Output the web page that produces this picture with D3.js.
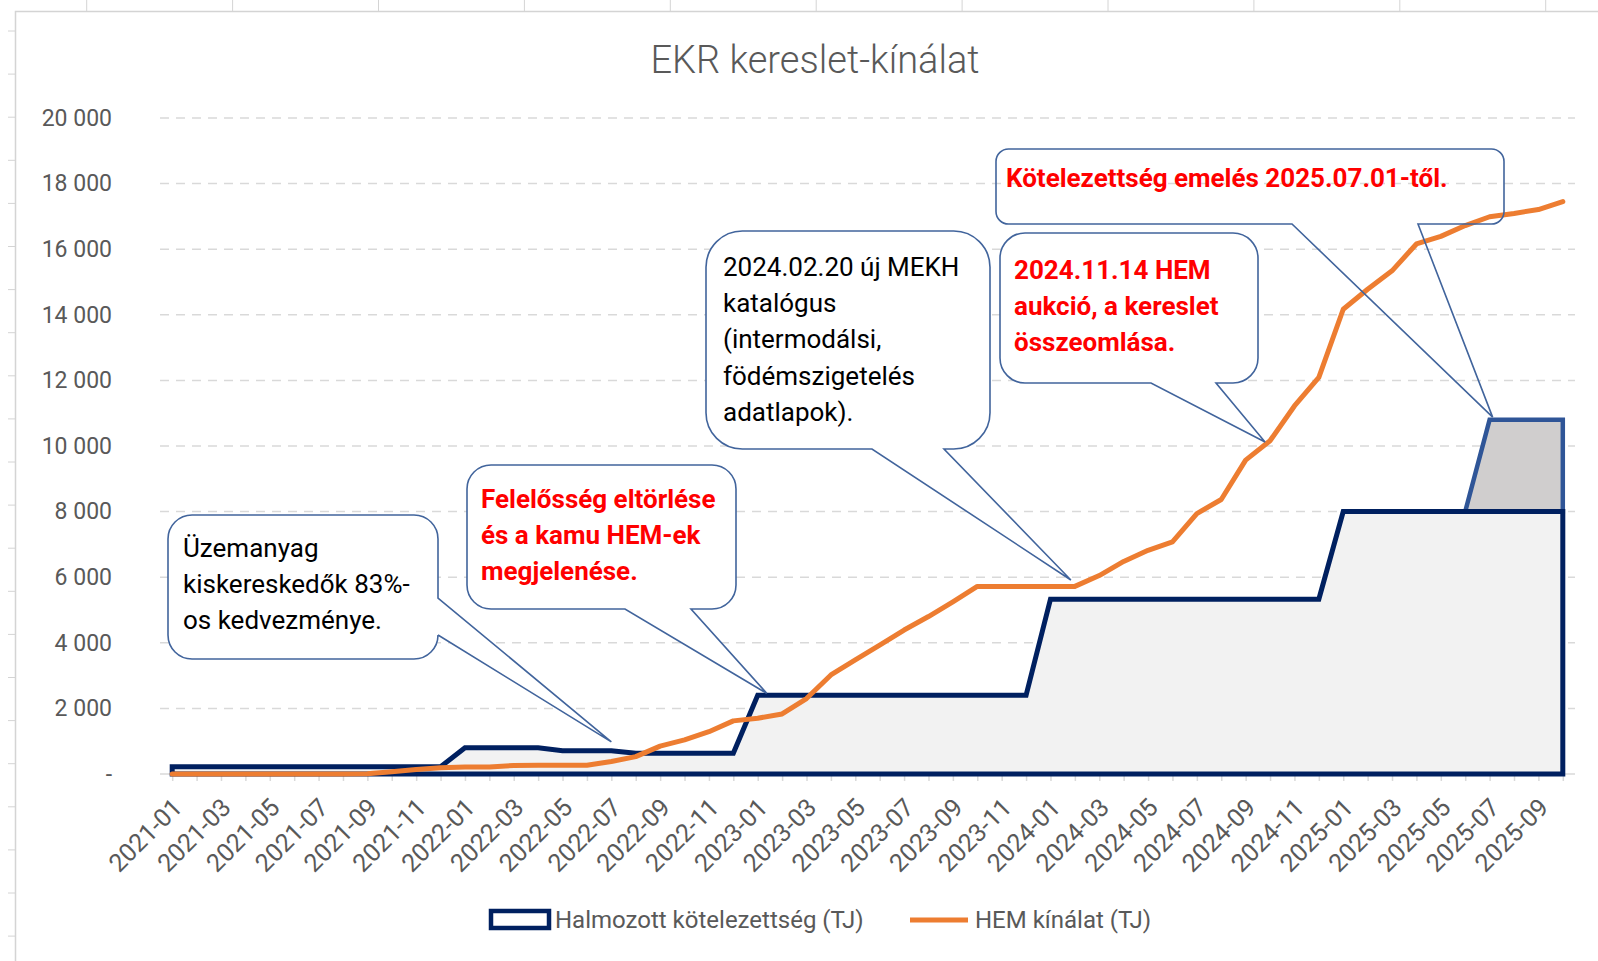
<!DOCTYPE html>
<html><head><meta charset="utf-8">
<script src="https://cdn.jsdelivr.net/npm/d3@7"></script>
<style>
body{margin:0;background:#fff;}
svg{display:block;}
text{font-family:Roboto,"Noto Sans",sans-serif;}
</style>
</head><body>
<svg id="chart" width="1598" height="961"></svg>
<script>
// ---------------- DATA ----------------
const months = [
 "2021-01","2021-02","2021-03","2021-04","2021-05","2021-06","2021-07","2021-08","2021-09","2021-10","2021-11","2021-12",
 "2022-01","2022-02","2022-03","2022-04","2022-05","2022-06","2022-07","2022-08","2022-09","2022-10","2022-11","2022-12",
 "2023-01","2023-02","2023-03","2023-04","2023-05","2023-06","2023-07","2023-08","2023-09","2023-10","2023-11","2023-12",
 "2024-01","2024-02","2024-03","2024-04","2024-05","2024-06","2024-07","2024-08","2024-09","2024-10","2024-11","2024-12",
 "2025-01","2025-02","2025-03","2025-04","2025-05","2025-06","2025-07","2025-08","2025-09","2025-10"];

// Halmozott kötelezettség (TJ)
const kotelezettseg = [
 220,220,220,220,220,220,220,220,220,220,220,220,
 800,800,800,800,710,710,710,630,630,630,630,630,
 2400,2400,2400,2400,2400,2400,2400,2400,2400,2400,2400,2400,
 5330,5330,5330,5330,5330,5330,5330,5330,5330,5330,5330,5330,
 8000,8000,8000,8000,8000,8000,8000,8000,8000,8000];

// Kötelezettség emelés 2025.07.01-től (increment on top of the obligation)
const emeles = [
 null,null,null,null,null,null,null,null,null,null,null,null,
 null,null,null,null,null,null,null,null,null,null,null,null,
 null,null,null,null,null,null,null,null,null,null,null,null,
 null,null,null,null,null,null,null,null,null,null,null,null,
 null,null,null,null,null,0,2800,2800,2800,2800];

// HEM kínálat (TJ)
const hemKinalat = [
 0,0,0,0,0,0,0,0,10,70,140,190,
 210,215,260,265,265,265,380,530,850,1040,1290,1620,
 1700,1830,2300,3020,3480,3930,4390,4800,5250,5720,5720,5720,
 5720,5720,6050,6480,6820,7080,7940,8370,9570,10160,11220,12090,
 14170,14780,15340,16160,16390,16720,16990,17090,17210,17450];

const yTicks = [0,2000,4000,6000,8000,10000,12000,14000,16000,18000,20000];
const yTickLabels = ["-","2 000","4 000","6 000","8 000","10 000","12 000","14 000","16 000","18 000","20 000"];

const titleText = "EKR kereslet-kínálat";
const legendLabels = ["Halmozott kötelezettség (TJ)", "HEM kínálat (TJ)"];

const calloutTexts = [
 ["Üzemanyag","kiskereskedők 83%-","os kedvezménye."],
 ["Felelősség eltörlése","és a kamu HEM-ek","megjelenése."],
 ["2024.02.20 új MEKH","katalógus","(intermodálsi,","födémszigetelés","adatlapok)."],
 ["2024.11.14 HEM","aukció, a kereslet","összeomlása."],
 ["Kötelezettség emelés 2025.07.01-től."]
];
const calloutMonths = ["2022-07","2023-01","2024-02","2024-10","2025-07"];
const calloutValues = [980, 2460, 5915, 10120, 10880];

// ---------------- LAYOUT ----------------
const W = 1598, H = 961;
const plot = {left:160, right:1575, top:118, bottom:774};
const svg = d3.select("#chart");

const x = d3.scalePoint().domain(months).range([plot.left, plot.right]).padding(0.5);
const y = d3.scaleLinear().domain([0,20000]).range([plot.bottom, plot.top]);

const grey = "#595959";

// spreadsheet background lines + chart area border
const bg = svg.append("g");
for (let cx = 86.7; cx < W; cx += 145.9) {
  bg.append("line").attr("x1",cx).attr("x2",cx).attr("y1",0).attr("y2",11).attr("stroke","#d4d4d4").attr("stroke-width",1);
}
for (let ry = 31; ry < H; ry += 43.1) {
  bg.append("line").attr("x1",8).attr("x2",15).attr("y1",ry).attr("y2",ry).attr("stroke","#d4d4d4").attr("stroke-width",1);
}
bg.append("rect").attr("x",15.5).attr("y",11.5).attr("width",W+10).attr("height",H+10)
  .attr("fill","#fff").attr("stroke","#d4d4d4").attr("stroke-width",1.5);

// title
svg.append("text").attr("x",815).attr("y",60).attr("text-anchor","middle").attr("dominant-baseline","central")
  .attr("font-size",38).attr("font-weight",300).attr("fill",grey).text(titleText);

// gridlines
svg.append("g").selectAll("line").data(yTicks.filter(d=>d>0)).join("line")
  .attr("x1",plot.left).attr("x2",plot.right).attr("y1",d=>y(d)).attr("y2",d=>y(d))
  .attr("stroke","#d9d9d9").attr("stroke-width",1.5).attr("stroke-dasharray","9,7");

// y axis
const yAxis = d3.axisLeft(y).tickValues(yTicks).tickSize(0).tickPadding(0)
  .tickFormat((d,i)=>yTickLabels[i]);
const gy = svg.append("g").attr("transform","translate(112,0)").call(yAxis);
gy.select(".domain").remove();
gy.selectAll("text").attr("font-size",23).attr("fill",grey).attr("font-family","Roboto");

// x axis
const xAxis = d3.axisBottom(x).tickSize(7).tickPadding(0)
  .tickFormat(d => (parseInt(d.slice(5)) % 2 === 1) ? d : "");
const gx = svg.append("g").attr("transform",`translate(0,${plot.bottom})`).call(xAxis);
gx.select(".domain").attr("d",`M${plot.left},0H${plot.right}`).attr("stroke","#d9d9d9").attr("stroke-width",1.5);
gx.selectAll(".tick line").attr("stroke","#d9d9d9").attr("stroke-width",1.5);
gx.selectAll(".tick text").attr("font-size",25).attr("fill",grey).attr("font-family","Roboto")
  .attr("text-anchor","end").attr("dy",0)
  .attr("transform","translate(6,30) rotate(-45)");

// navy obligation area
const idx = months.map((m,i)=>i);
const areaK = d3.area().x(i=>x(months[i])).y0(y(0)).y1(i=>y(kotelezettseg[i]));
// gray increment area
const areaE = d3.area().defined(i=>emeles[i]!=null)
  .x(i=>x(months[i])).y0(i=>y(kotelezettseg[i])).y1(i=>y(kotelezettseg[i]+emeles[i]));
const eIdx = idx.filter(i=>emeles[i]!=null);
svg.append("path").datum(eIdx).attr("d",d=>areaE(d))
  .attr("fill","#d0cece").attr("stroke","#2f5597").attr("stroke-width",4.5).attr("stroke-linejoin","miter");
svg.append("path").datum(idx).attr("d",d=>areaK(d))
  .attr("fill","#f2f2f2").attr("stroke","#002060").attr("stroke-width",5).attr("stroke-linejoin","miter");

// orange supply line
const lineH = d3.line().x(i=>x(months[i])).y(i=>y(hemKinalat[i]));
svg.append("path").datum(idx).attr("d",d=>lineH(d))
  .attr("fill","none").attr("stroke","#ed7d31").attr("stroke-width",5).attr("stroke-linejoin","round").attr("stroke-linecap","round");

// callouts
const calloutBoxes = [
 {x:168,y:515,w:270,h:144,side:"right",b1:598,b2:635,dx:0,tx:183,ty:548,color:"#000",bold:false,fill:"#fff"},
 {x:467,y:465,w:269,h:144,side:"bottom",b1:625,b2:691,dx:9,tx:481,ty:499,color:"#ff0000",bold:true,fill:"#fff"},
 {x:706,y:231,w:284,h:218,side:"bottom",b1:872,b2:944,dx:-4,tx:723,ty:267,color:"#000",bold:false,fill:"#fff"},
 {x:1000,y:233,w:258,h:150,side:"bottom",b1:1151,b2:1216,dx:-5,tx:1014,ty:270,color:"#ff0000",bold:true,fill:"#fff"},
 {x:996,y:149,w:508,h:75,side:"bottom",b1:1292,b2:1418,dx:3,tx:1006,ty:178,color:"#ff0000",bold:true,fill:"none"}
];
function calloutPath(b, tipX, tipY){
  const {x:bx,y:by,w,h} = b; const r = Math.min(w,h)*0.1667;
  let p = `M${bx+r},${by} H${bx+w-r} A${r},${r} 0 0 1 ${bx+w},${by+r}`;
  if (b.side==="right") p += ` V${b.b1} L${tipX},${tipY} L${bx+w},${b.b2}`;
  p += ` V${by+h-r} A${r},${r} 0 0 1 ${bx+w-r},${by+h}`;
  if (b.side==="bottom") p += ` H${b.b2} L${tipX},${tipY} L${b.b1},${by+h}`;
  p += ` H${bx+r} A${r},${r} 0 0 1 ${bx},${by+h-r} V${by+r} A${r},${r} 0 0 1 ${bx+r},${by} Z`;
  return p;
}
const cg = svg.append("g");
calloutBoxes.forEach((b,k)=>{
  const tipX = x(calloutMonths[k]) + b.dx, tipY = y(calloutValues[k]);
  cg.append("path").attr("d",calloutPath(b,tipX,tipY))
    .attr("fill",b.fill).attr("stroke","#41649c").attr("stroke-width",1.6);
  const t = cg.append("text").attr("font-size",26).attr("fill",b.color)
    .attr("font-weight",b.bold?700:400).attr("dominant-baseline","central");
  calloutTexts[k].forEach((ln,j)=>{
    t.append("tspan").attr("x",b.tx).attr("y",b.ty + j*36.2).text(ln);
  });
});

// legend
const lg = svg.append("g");
lg.append("rect").attr("x",491).attr("y",911).attr("width",58).attr("height",17)
  .attr("fill","#fff").attr("stroke","#002060").attr("stroke-width",4.5);
lg.append("text").attr("x",555).attr("y",920).attr("dominant-baseline","central")
  .attr("font-size",24).attr("fill",grey).text(legendLabels[0]);
lg.append("line").attr("x1",910).attr("x2",968).attr("y1",920).attr("y2",920)
  .attr("stroke","#ed7d31").attr("stroke-width",5);
lg.append("text").attr("x",975).attr("y",920).attr("dominant-baseline","central")
  .attr("font-size",24).attr("fill",grey).text(legendLabels[1]);
</script>
</body></html>
